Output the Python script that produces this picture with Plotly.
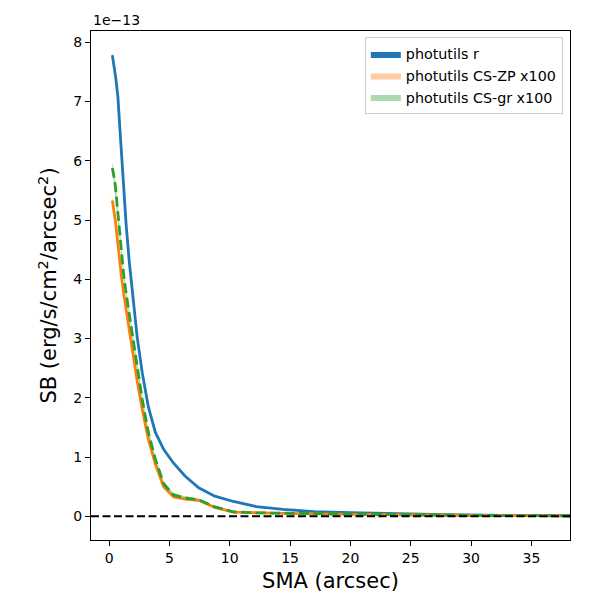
import plotly.graph_objects as go

# SMA (arcsec)
sma = [0.27, 0.32, 0.38, 0.45, 0.53, 0.62, 0.73, 0.87, 1.02, 1.20, 1.42, 1.67, 1.98, 2.33,
       2.75, 3.25, 3.83, 4.52, 5.33, 6.29, 7.43, 8.76, 10.3, 12.2, 14.4, 17.0, 20.0, 23.6,
       27.9, 32.9, 38.8]

# Surface brightness in units of 1e-13 erg/s/cm^2/arcsec^2
sb_r = [7.78, 7.72, 7.65, 7.55, 7.43, 7.28, 7.08, 6.62, 6.10, 5.50, 4.90, 4.30, 3.65, 3.02,
        2.42, 1.85, 1.42, 1.13, 0.90, 0.68, 0.48, 0.34, 0.25, 0.165, 0.115, 0.08, 0.062,
        0.042, 0.028, 0.016, 0.008]
sb_zp = [5.33, 5.27, 5.20, 5.10, 4.97, 4.80, 4.58, 4.32, 4.05, 3.77, 3.47, 3.15, 2.75, 2.28,
         1.80, 1.30, 0.88, 0.50, 0.33, 0.29, 0.27, 0.15, 0.07, 0.055, 0.05, 0.042, 0.033,
         0.025, 0.018, 0.012, 0.008]
sb_gr = [5.88, 5.83, 5.76, 5.68, 5.55, 5.35, 5.08, 4.78, 4.45, 4.10, 3.75, 3.40, 2.98, 2.50,
         1.97, 1.42, 0.97, 0.55, 0.36, 0.31, 0.28, 0.16, 0.075, 0.058, 0.052, 0.044, 0.035,
         0.027, 0.019, 0.013, 0.009]

err_r = [0.04, 0.04, 0.04, 0.04, 0.04, 0.04, 0.04, 0.04, 0.03, 0.03, 0.03, 0.03, 0.03, 0.02,
         0.02, 0.02, 0.02, 0.02, 0.01, 0.01, 0.01, 0.01, 0.01, 0.01, 0.005, 0.005, 0.005,
         0.005, 0.005, 0.005, 0.005]
err_zp = [0.07, 0.07, 0.07, 0.07, 0.07, 0.07, 0.06, 0.06, 0.06, 0.06, 0.05, 0.05, 0.05, 0.05,
          0.04, 0.04, 0.04, 0.03, 0.03, 0.02, 0.02, 0.02, 0.01, 0.01, 0.01, 0.01, 0.01,
          0.01, 0.005, 0.005, 0.005]
err_gr = [0.10, 0.10, 0.10, 0.10, 0.09, 0.09, 0.09, 0.08, 0.08, 0.08, 0.07, 0.07, 0.07, 0.06,
          0.06, 0.05, 0.05, 0.04, 0.03, 0.03, 0.02, 0.02, 0.02, 0.01, 0.01, 0.01, 0.01,
          0.01, 0.005, 0.005, 0.005]

names = ["photutils r", "photutils CS-ZP x100", "photutils CS-gr x100"]
hline_value = 0.0
x_ticks = [0, 5, 10, 15, 20, 25, 30, 35]
y_ticks = [0, 1, 2, 3, 4, 5, 6, 7, 8]

BLUE, ORANGE, GREEN = "#1f77b4", "#ff7f0e", "#2ca02c"
FONT = "DejaVu Sans"

fig = go.Figure()


def band(x, y, e, color, name):
    xs = list(x) + list(x)[::-1]
    ys = [a + b for a, b in zip(y, e)] + [a - b for a, b in zip(y, e)][::-1]
    return go.Scatter(x=xs, y=ys, fill="toself", fillcolor=color, mode="lines",
                      line=dict(width=0, color=color), name=name, hoverinfo="skip")


fig.add_trace(band(sma, sb_r, err_r, BLUE, names[0]))
fig.add_trace(band(sma, sb_zp, err_zp, "rgba(255,127,14,0.4)", names[1]))
fig.add_trace(band(sma, sb_gr, err_gr, "rgba(44,160,44,0.4)", names[2]))

fig.add_trace(go.Scatter(x=sma, y=sb_r, mode="lines", line=dict(color=BLUE, width=2.8),
                         showlegend=False))
fig.add_trace(go.Scatter(x=sma, y=sb_zp, mode="lines", line=dict(color=ORANGE, width=2.8),
                         showlegend=False))
fig.add_trace(go.Scatter(x=sma, y=sb_gr, mode="lines",
                         line=dict(color=GREEN, width=2.8, dash="10px,4.5px"),
                         showlegend=False))

fig.add_shape(type="line", xref="paper", x0=0, x1=1, yref="y", y0=hline_value, y1=hline_value,
              line=dict(color="black", width=2, dash="8px,3.5px"), layer="above")

axis_common = dict(showgrid=False, zeroline=False, showline=True, linecolor="black",
                   linewidth=1.1, mirror=True, ticks="outside", ticklen=5, tickwidth=1.1,
                   tickcolor="black", tickfont=dict(family=FONT, size=14, color="black"))

fig.update_xaxes(range=[-1.5, 38.2], tickvals=x_ticks,
                 title=dict(text="SMA (arcsec)", font=dict(family=FONT, size=21, color="black"),
                            standoff=8),
                 **axis_common)
fig.update_yaxes(range=[-0.40, 8.19], tickvals=y_ticks,
                 title=dict(text="SB (erg/s/cm<sup>2</sup>/arcsec<sup>2</sup>)",
                            font=dict(family=FONT, size=21, color="black"), standoff=10),
                 **axis_common)

fig.add_annotation(text="1e\u221213", xref="paper", yref="paper", x=0, y=1,
                   xanchor="left", yanchor="bottom", showarrow=False, yshift=1,
                   font=dict(family=FONT, size=14, color="black"))

fig.update_layout(
    width=600, height=600,
    margin=dict(l=91, r=30, t=31, b=60),
    plot_bgcolor="white", paper_bgcolor="white",
    font=dict(family=FONT, color="black"),
    showlegend=True,
    legend=dict(x=0.985, y=0.988, xanchor="right", yanchor="top",
                bgcolor="rgba(255,255,255,0.8)", bordercolor="#cccccc", borderwidth=1,
                font=dict(family=FONT, size=14.3, color="black")),
)

fig.write_html("out.html", config={"displayModeBar": False},
               post_script="document.body.style.margin='0';")
